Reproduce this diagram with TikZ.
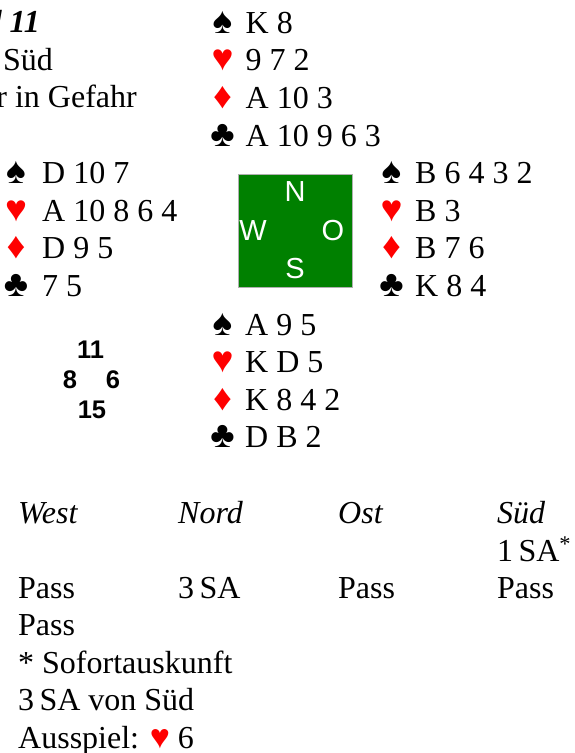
\documentclass[tikz,border=0pt]{standalone}
\usepackage{fontspec}
\setmainfont{Liberation Serif}
\newfontfamily\sansf{Liberation Sans}
\definecolor{suitred}{RGB}{255,0,0}
\definecolor{tablegreen}{RGB}{0,128,0}
\definecolor{boxgray}{RGB}{175,175,175}
\tikzset{
  txt/.style={inner sep=0pt, anchor=base west, font=\fontsize{32}{38}\selectfont},
  hdr/.style={txt, font=\fontsize{32}{38}\selectfont\itshape},
  suitsym/.style={inner sep=0pt, anchor=base, font=\fontsize{37}{38}\selectfont},
  redsuit/.style={suitsym, text=suitred},
  compass/.style={inner sep=0pt, anchor=base, text=white, font=\sansf\fontsize{29}{32}\selectfont},
  hcp/.style={inner sep=0pt, anchor=base, font=\sansf\bfseries\fontsize{25.5}{28}\selectfont},
  table/.style={fill=tablegreen, draw=boxgray, line width=0.8pt}
}
\begin{document}
\begin{tikzpicture}[x=1pt,y=-1pt]
\useasboundingbox (0,0) rectangle (574,753);
\clip (0,0) rectangle (574,753);
% board header (cut off at the left edge, as in the reference)
\node[txt, anchor=base east, font=\fontsize{32}{38}\selectfont\bfseries\itshape] (board) at (40,32) {Board 11};
\node[txt, anchor=base east] (dealer) at (53,70) {Teiler Süd};
\node[txt, anchor=base east] (vul) at (137,107) {Keiner in Gefahr};
% North
\node[suitsym] (ns) at (222.5,33) {♠};
\node[redsuit] (nh) at (222.5,70.5) {♥};
\node[redsuit] (nd) at (222.5,108) {♦};
\node[suitsym] (nc) at (222.5,146) {♣};
\node[txt] (nst) at (245.5,33) {K 8};
\node[txt] (nht) at (245.5,70.5) {9 7 2};
\node[txt] (ndt) at (245.5,108) {A 10 3};
\node[txt] (nct) at (245.5,146) {A 10 9 6 3};
% West
\node[suitsym] (ws) at (16,183.5) {♠};
\node[redsuit] (wh) at (16,221) {♥};
\node[redsuit] (wd) at (16,258.5) {♦};
\node[suitsym] (wc) at (16,296.5) {♣};
\node[txt] (wst) at (42,183.5) {D 10 7};
\node[txt] (wht) at (42,221) {A 10 8 6 4};
\node[txt] (wdt) at (42,258.5) {D 9 5};
\node[txt] (wct) at (42,296.5) {7 5};
% East
\node[suitsym] (es) at (391.5,183.5) {♠};
\node[redsuit] (eh) at (391.5,221) {♥};
\node[redsuit] (ed) at (391.5,258.5) {♦};
\node[suitsym] (ec) at (391.5,296.5) {♣};
\node[txt] (est) at (415,183.5) {B 6 4 3 2};
\node[txt] (eht) at (415,221) {B 3};
\node[txt] (edt) at (415,258.5) {B 7 6};
\node[txt] (ect) at (415,296.5) {K 8 4};
% South
\node[suitsym] (ss) at (222.5,335) {♠};
\node[redsuit] (sh) at (222.5,372.5) {♥};
\node[redsuit] (sd) at (222.5,410) {♦};
\node[suitsym] (sc) at (222.5,447.5) {♣};
\node[txt] (sst) at (245,335) {A 9 5};
\node[txt] (sht) at (245,372.5) {K D 5};
\node[txt] (sdt) at (245,410) {K 8 4 2};
\node[txt] (sct) at (245,447.5) {D B 2};
% table
\draw[table] (238,174) rectangle (352,287);
\node[compass] (cn) at (295,201) {N};
\node[compass] (cw) at (253,240.5) {W};
\node[compass] (co) at (333,240.5) {O};
\node[compass] (cs) at (295,278.5) {S};
% HCP
\node[hcp] (hn) at (90.5,358) {11};
\node[hcp] (hw) at (70,388) {8};
\node[hcp] (he) at (113,388) {6};
\node[hcp] (hs) at (92,418.5) {15};
% bidding
\node[hdr] (bw) at (18,523) {West};
\node[hdr] (bn) at (178,523) {Nord};
\node[hdr] (bo) at (338,523) {Ost};
\node[hdr] (bs) at (497,523) {Süd};
\node[txt] (b1) at (497,561) {1\,SA\textsuperscript{*}};
\node[txt] (b2) at (18,598) {Pass};
\node[txt] (b3) at (178,598) {3\,SA};
\node[txt] (b4) at (338,598) {Pass};
\node[txt] (b5) at (497,598) {Pass};
\node[txt] (b6) at (18,635.5) {Pass};
\node[txt] (note) at (18,673) {* Sofortauskunft};
\node[txt] (contract) at (18,710.5) {3\,SA von Süd};
\node[txt] (lead) at (18,748) {Ausspiel: {\fontsize{34}{38}\selectfont\textcolor{suitred}{♥}} 6};
\end{tikzpicture}
\end{document}
